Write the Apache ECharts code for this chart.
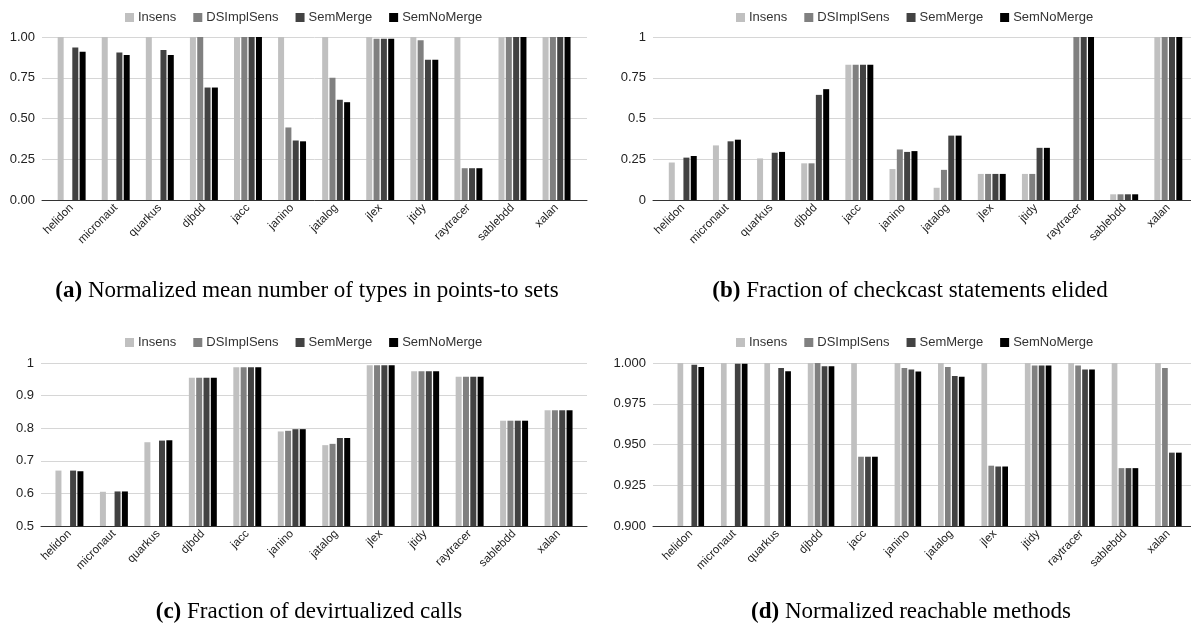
<!DOCTYPE html>
<html>
<head>
<meta charset="utf-8">
<script src="https://cdn.jsdelivr.net/npm/echarts@6/dist/echarts.min.js"></script>
<style>
html,body{margin:0;padding:0;background:#fff;}
#chart{width:1191px;height:638px;}
</style>
</head>
<body>
<div id="chart"></div>
<script>
// ---- data ----
const categories = ['helidon','micronaut','quarkus','djbdd','jacc','janino','jatalog','jlex','jtidy','raytracer','sablebdd','xalan'];
const seriesNames = ['Insens','DSImplSens','SemMerge','SemNoMerge'];

// (a) Normalized mean number of types in points-to sets
const aInsens     = [1.00,1.00,1.00,1.00,1.00,1.00,1.00,1.00,1.00,1.00,1.00,1.00];
const aDSImplSens = [null,null,null,1.00,1.00,0.445,0.75,0.99,0.98,0.195,1.00,1.00];
const aSemMerge   = [0.935,0.905,0.92,0.69,1.00,0.365,0.615,0.99,0.86,0.195,1.00,1.00];
const aSemNoMerge = [0.91,0.89,0.89,0.69,1.00,0.36,0.60,0.99,0.86,0.195,1.00,1.00];

// (b) Fraction of checkcast statements elided
const bInsens     = [0.23,0.335,0.255,0.225,0.83,0.19,0.075,0.16,0.16,0.0,0.035,1.00];
const bDSImplSens = [null,null,null,0.225,0.83,0.31,0.185,0.16,0.16,1.00,0.035,1.00];
const bSemMerge   = [0.26,0.36,0.29,0.645,0.83,0.295,0.395,0.16,0.32,1.00,0.035,1.00];
const bSemNoMerge = [0.27,0.37,0.295,0.68,0.83,0.30,0.395,0.16,0.32,1.00,0.035,1.00];

// (c) Fraction of devirtualized calls
const cInsens     = [0.67,0.605,0.757,0.955,0.987,0.79,0.748,0.993,0.975,0.958,0.823,0.855];
const cDSImplSens = [null,null,null,0.955,0.987,0.792,0.752,0.993,0.975,0.958,0.823,0.855];
const cSemMerge   = [0.67,0.606,0.762,0.955,0.987,0.797,0.77,0.993,0.975,0.958,0.823,0.855];
const cSemNoMerge = [0.668,0.606,0.763,0.955,0.987,0.797,0.77,0.993,0.975,0.958,0.823,0.855];

// (d) Normalized reachable methods
const dInsens     = [1.00,1.00,1.00,1.00,1.00,1.00,1.00,1.00,1.00,1.00,1.00,1.00];
const dDSImplSens = [null,null,null,1.00,0.9425,0.997,0.9975,0.937,0.9985,0.9985,0.9355,0.997];
const dSemMerge   = [0.999,0.9995,0.997,0.998,0.9425,0.996,0.992,0.9365,0.9985,0.996,0.9355,0.945];
const dSemNoMerge = [0.9975,0.9995,0.995,0.998,0.9425,0.9948,0.9915,0.9365,0.9985,0.996,0.9355,0.945];

const captionLetters = ['(a)','(b)','(c)','(d)'];
const captionTexts = ['Normalized mean number of types in points-to sets','Fraction of checkcast statements elided','Fraction of devirtualized calls','Normalized reachable methods'];

// ---- styling / layout ----
const colors = ['#c0c0c0','#808080','#424242','#000000'];
const sans = 'Liberation Sans, Arial, sans-serif';
const serif = 'Liberation Serif, Times New Roman, serif';

const panels = [
  {data:[aInsens,aDSImplSens,aSemMerge,aSemNoMerge], min:0, max:1, interval:0.25, dec:2,
   bg:{left:42, width:545, top:37, height:163}, dg:{left:49.6, width:529, top:37, height:163},
   legend:{left:120, top:6}, cap:{x:307, y:291}, barW:6},
  {data:[bInsens,bDSImplSens,bSemMerge,bSemNoMerge], min:0, max:1, interval:0.25, dec:-1,
   bg:{left:653, width:538, top:37, height:163}, dg:{left:660.7, width:529.7, top:37, height:163},
   legend:{left:731, top:6}, cap:{x:910, y:291}, barW:6},
  {data:[cInsens,cDSImplSens,cSemMerge,cSemNoMerge], min:0.5, max:1, interval:0.1, dec:-1,
   bg:{left:41, width:546, top:363, height:163}, dg:{left:47.2, width:533.6, top:363, height:163},
   legend:{left:120, top:331}, cap:{x:309, y:612}, barW:6},
  {data:[dInsens,dDSImplSens,dSemMerge,dSemNoMerge], min:0.9, max:1, interval:0.025, dec:3,
   bg:{left:653, width:538, top:363, height:163}, dg:{left:669.1, width:521, top:363, height:163},
   legend:{left:731, top:331}, cap:{x:911, y:612}, barW:5.7}
];

const grid = [], xAxis = [], yAxis = [], series = [], legend = [], graphic = [];
panels.forEach((p, i) => {
  const bgIdx = grid.length;
  grid.push(Object.assign({containLabel:false}, p.bg));
  const dgIdx = grid.length;
  grid.push(Object.assign({containLabel:false}, p.dg));
  // background grid: y labels, gridlines, base axis line
  xAxis.push({gridIndex:bgIdx, type:'value', min:0, max:1, position:'bottom',
    axisLabel:{show:false}, axisTick:{show:false}, splitLine:{show:false},
    axisLine:{show:true, onZero:false, lineStyle:{color:'#333', width:1}}});
  yAxis.push({gridIndex:bgIdx, type:'value', min:p.min, max:p.max, interval:p.interval,
    axisLine:{show:false}, axisTick:{show:false},
    splitLine:{show:true, lineStyle:{color:'#d6d6d6', width:1}},
    axisLabel:{show:true, color:'#222', fontSize:13, fontFamily:sans, margin:7,
      formatter: v => p.dec >= 0 ? v.toFixed(p.dec) : String(+v.toFixed(3))}});
  // data grid
  const xi = xAxis.length;
  xAxis.push({gridIndex:dgIdx, type:'category', data:categories,
    axisLine:{show:false}, axisTick:{show:false}, splitLine:{show:false},
    axisLabel:{interval:0, rotate:45, fontSize:11.5, color:'#222', fontFamily:sans, margin:6}});
  const yi = yAxis.length;
  yAxis.push({gridIndex:dgIdx, type:'value', min:p.min, max:p.max, show:false, splitLine:{show:false}});
  seriesNames.forEach((name, k) => {
    series.push({type:'bar', name:name, xAxisIndex:xi, yAxisIndex:yi, data:p.data[k],
      barWidth:p.barW, barGap:'22%', itemStyle:{color:colors[k]}, silent:true, animation:false});
  });
  legend.push({data:seriesNames, left:p.legend.left, top:p.legend.top, icon:'rect',
    itemWidth:9, itemHeight:9, itemGap:17, selectedMode:false,
    textStyle:{fontSize:13, color:'#333', fontFamily:sans, padding:[0,0,0,-1]}});
  graphic.push({type:'text', x:p.cap.x, y:p.cap.y, silent:true,
    style:{text:'{b|' + captionLetters[i] + '} ' + captionTexts[i],
      rich:{b:{fontWeight:'bold', fontSize:23, fontFamily:serif, fill:'#000'}},
      fontSize:23, fontFamily:serif, fill:'#000', align:'center', verticalAlign:'middle'}});
});

const chart = echarts.init(document.getElementById('chart'), null, {renderer:'canvas'});
chart.setOption({animation:false, backgroundColor:'#fff', grid, xAxis, yAxis, series, legend, graphic});
</script>
</body>
</html>
